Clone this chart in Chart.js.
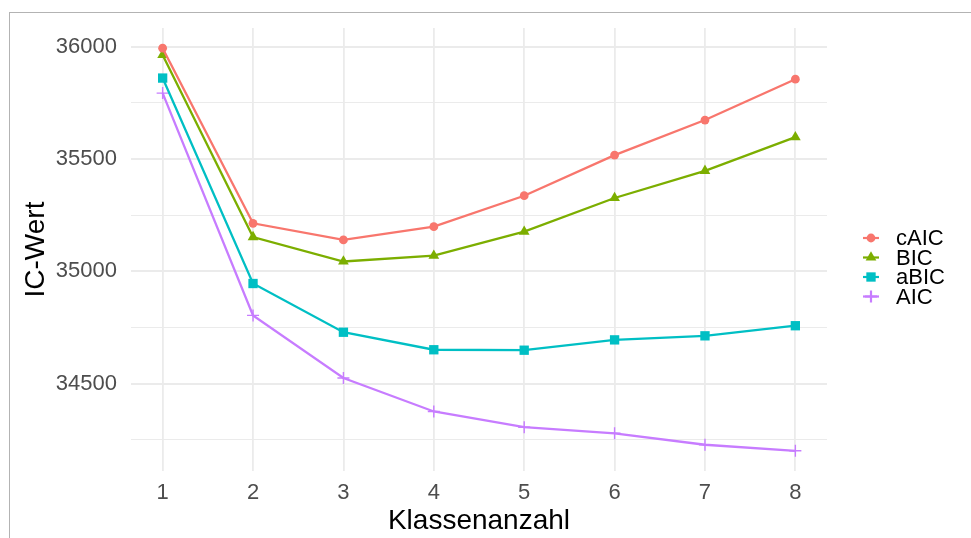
<!DOCTYPE html>
<html>
<head>
<meta charset="utf-8">
<script src="https://cdn.jsdelivr.net/npm/chart.js@4/dist/chart.umd.min.js"></script>
<style>
  html, body { margin: 0; padding: 0; background: white; }
  .wrap { position: relative; width: 971px; height: 538px; overflow: hidden; }
  .frame { position: absolute; left: 9px; top: 12px; width: 1000px; height: 600px;
    border-top: 1px solid #b3b3b3; border-left: 1px solid #b3b3b3; pointer-events: none; }
</style>
</head>
<body>
<div class="wrap">
  <canvas id="ic"></canvas>
  <div class="frame"></div>
</div>
<script>
// IC-Werte je Klassenanzahl
const classes = [1, 2, 3, 4, 5, 6, 7, 8];
const cAIC = [35994, 35214, 35140, 35199, 35337, 35518, 35674, 35856];
const BIC  = [35964, 35153, 35044, 35070, 35177, 35327, 35448, 35598];
const aBIC = [35861, 34946, 34729, 34651, 34649, 34695, 34713, 34758];
const AIC  = [35794, 34804, 34525, 34376, 34306, 34279, 34228, 34201];
const seriesNames = ['cAIC', 'BIC', 'aBIC', 'AIC'];
const yTicks = [34250, 34500, 34750, 35000, 35250, 35500, 35750, 36000];
const yLabelled = [34500, 35000, 35500, 36000];

const colors = ['#F8766D', '#7CAE00', '#00BFC4', '#C77CFF'];
const styles = [
  { pointStyle: 'circle', radius: 4.4, bw: 0 },
  { pointStyle: 'triangle', radius: 6.2, bw: 0 },
  { pointStyle: 'rect', radius: 6.6, bw: 0 },
  { pointStyle: 'cross', radius: 6, bw: 1.4 }
];

function makeSet(name, values, i) {
  return {
    label: name,
    data: values.map(function (v, k) { return { x: classes[k], y: v }; }),
    borderColor: colors[i],
    backgroundColor: colors[i],
    borderWidth: 2.3,
    pointStyle: styles[i].pointStyle,
    pointRadius: styles[i].radius,
    pointHoverRadius: styles[i].radius,
    pointBorderWidth: styles[i].bw,
    pointBorderColor: colors[i],
    pointBackgroundColor: colors[i],
    tension: 0
  };
}

// legend like ggplot: line + marker per key
const legendPlugin = {
  id: 'ggLegend',
  afterDraw: function (chart) {
    const ctx = chart.ctx;
    const area = chart.chartArea;
    const x0 = area.right + 44, y0 = 238, step = 19.5;
    ctx.save();
    chart.data.datasets.forEach(function (ds, i) {
      const y = y0 + i * step;
      ctx.strokeStyle = ds.borderColor;
      ctx.lineWidth = 2.2;
      ctx.beginPath();
      ctx.moveTo(x0 - 8, y);
      ctx.lineTo(x0 + 8, y);
      ctx.stroke();
      ctx.fillStyle = ds.backgroundColor;
      ctx.strokeStyle = ds.borderColor;
      Chart.helpers.drawPoint(ctx, {
        pointStyle: ds.pointStyle, rotation: 0,
        radius: ds.pointRadius, borderWidth: ds.pointBorderWidth
      }, x0, y);
      ctx.fillStyle = '#000';
      ctx.font = '22px "Liberation Sans", Arial, sans-serif';
      ctx.textAlign = 'left';
      ctx.textBaseline = 'middle';
      ctx.fillText(ds.label, x0 + 25, y + 1);
    });
    ctx.restore();
  }
};

const tickFont = { family: '"Liberation Sans", Arial, sans-serif', size: 22 };
const titleFont = { family: '"Liberation Sans", Arial, sans-serif', size: 28 };

new Chart(document.getElementById('ic'), {
  type: 'line',
  data: {
    datasets: [
      makeSet(seriesNames[0], cAIC, 0),
      makeSet(seriesNames[1], BIC, 1),
      makeSet(seriesNames[2], aBIC, 2),
      makeSet(seriesNames[3], AIC, 3)
    ]
  },
  options: {
    responsive: true,
    maintainAspectRatio: false,
    animation: false,
    layout: { padding: { top: 28, right: 144, bottom: 0, left: 0 } },
    plugins: { legend: { display: false }, tooltip: { enabled: false } },
    scales: {
      x: {
        type: 'linear',
        min: 0.65, max: 8.35,
        afterBuildTicks: function (s) { s.ticks = classes.map(function (v) { return { value: v }; }); },
        afterFit: function (s) { s.height = 67; },
        grid: { color: '#ebebeb', lineWidth: 1.8, drawTicks: false },
        border: { display: false },
        ticks: { padding: 9, color: '#4d4d4d', font: tickFont,
          callback: function (v) { return String(v); } },
        title: { display: true, text: 'Klassenanzahl', color: '#000', font: titleFont,
          padding: { top: 0, bottom: 0 } }
      },
      y: {
        min: 34111, max: 36084,
        afterBuildTicks: function (s) { s.ticks = yTicks.map(function (v) { return { value: v }; }); },
        afterFit: function (s) { s.width = 131; },
        grid: {
          color: '#ebebeb', drawTicks: false,
          lineWidth: function (c) { return yLabelled.indexOf(c.tick.value) >= 0 ? 2 : 1; }
        },
        border: { display: false },
        ticks: { padding: 14, color: '#4d4d4d', font: tickFont,
          callback: function (v) { return yLabelled.indexOf(v) >= 0 ? String(v) : ''; } },
        title: { display: true, text: 'IC-Wert', color: '#000', font: titleFont,
          padding: { top: 19, bottom: 0 } }
      }
    }
  },
  plugins: [legendPlugin]
});
</script>
</body>
</html>
